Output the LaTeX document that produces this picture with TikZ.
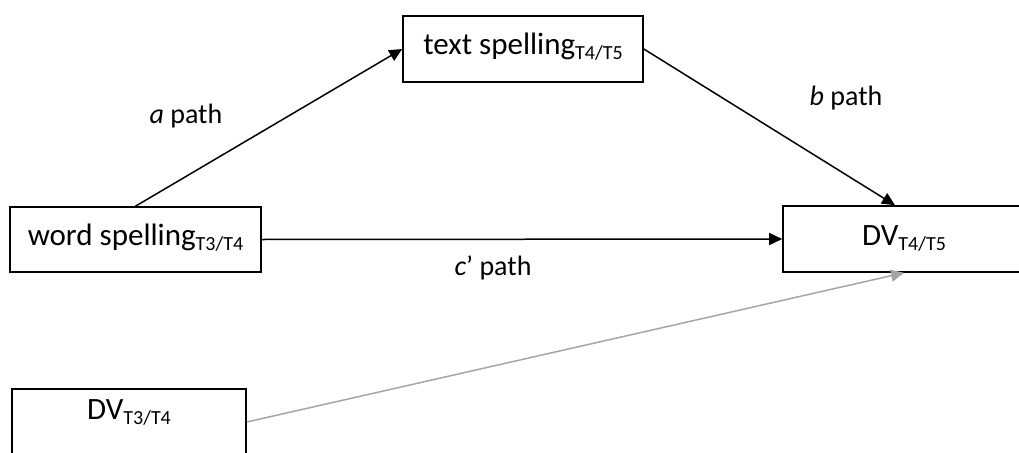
\documentclass[tikz,border=0pt]{standalone}
\usepackage{fontspec}
\setmainfont{Carlito}
\usetikzlibrary{arrows.meta}
\definecolor{lightline}{RGB}{165,165,165}
% time-point subscript
\newcommand\tp[1]{\raisebox{-5pt}{\fontsize{20}{24}\selectfont #1}}
\tikzset{
  varbox/.style={draw=black, line width=1.6pt, fill=white, inner sep=0pt,
                 text height=20pt, text depth=8pt,
                 font=\fontsize{31}{36}\selectfont},
  boxtext/.style={anchor=base, inner sep=0pt, font=\fontsize{31}{36}\selectfont},
  pathlbl/.style={anchor=base, inner sep=0pt, font=\fontsize{28}{32}\selectfont},
  effect/.style={line width=1.5pt, -{Triangle[length=13pt,width=12pt]}},
  control/.style={effect, draw=lightline, -{Triangle[length=13pt,width=12pt,fill=lightline]}}
}
\begin{document}
\begin{tikzpicture}[x=1pt, y=-1pt]
  \useasboundingbox (0,0) rectangle (1019,452);

  % variables
  \node[varbox, minimum width=240pt, minimum height=66pt] (ts) at (523,49)
    {text spelling\tp{T4/T5}};
  \node[varbox, minimum width=251pt, minimum height=65pt] (ws) at (135.5,239.5)
    {word spelling\tp{T3/T4}};
  \node[varbox, minimum width=242pt, minimum height=66pt] (dv2) at (904,239)
    {DV\tp{T4/T5}};
  \node[varbox, minimum width=234pt, minimum height=66pt] (dv1) at (129,422) {};
  \node[boxtext] (dv1txt) at (129,419) {DV\tp{T3/T4}};

  % connectors
  \coordinate (btip) at ([xshift=-9pt]dv2.north);
  \draw[effect] (ws.north) -- (ts.west);
  \draw[effect] (ts.east) -- (btip);
  \draw[effect] (ws.east) -- (dv2.west);
  \draw[control] (dv1.east) -- (dv2.south);

  % path labels
  \node[pathlbl] (alab) at (186,123) {\textit{a} path};
  \node[pathlbl] (blab) at (846,105) {\textit{b} path};
  \node[pathlbl] (clab) at (493,275) {\textit{c}’ path};
\end{tikzpicture}
\end{document}
